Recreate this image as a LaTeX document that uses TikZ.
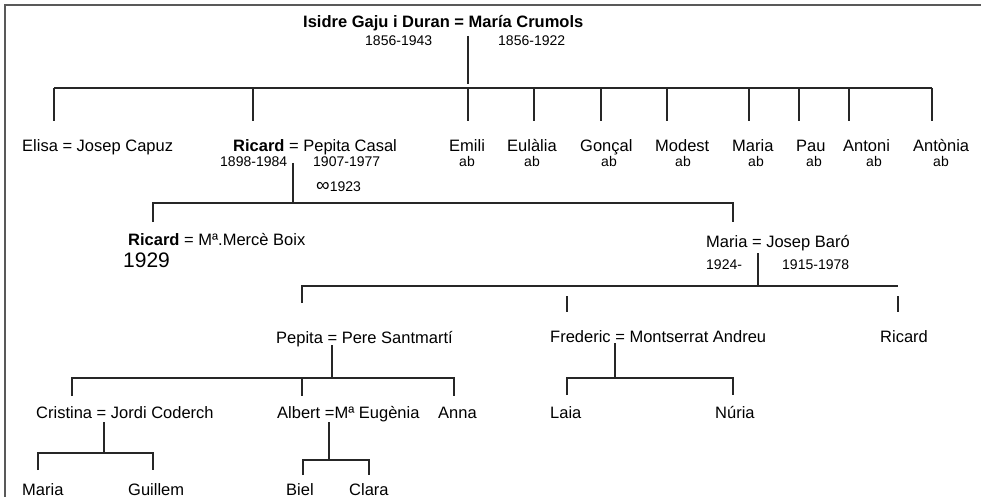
\documentclass[tikz,border=0pt]{standalone}
\usepackage{fontspec}
\setmainfont{Liberation Sans}

\tikzset{
  person/.style={inner sep=0pt, anchor=base west},
  small/.style={person, font=\fontsize{14}{16}\selectfont},
  line/.style={draw=black!85, line width=1.2pt},
}

\begin{document}
\begin{tikzpicture}[x=1pt, y=-1pt, font=\fontsize{16.5}{19}\selectfont]
\useasboundingbox (0,0) rectangle (981,497);
\draw[black!65, line width=1.6pt] (5,497) -- (5,5) -- (981,5);

% --- generation 1
\node[person, font=\fontsize{16.5}{19}\selectfont\bfseries] (isidre) at (303,28) {Isidre Gaju i Duran = María Crumols};
\node[small] (isidre-d) at (365,46) {1856-1943};
\node[small] (maria-d) at (498,46) {1856-1922};

% --- generation 2
\node[person] (elisa) at (22,152) {Elisa = Josep Capuz};
\node[person] (ricard) at (233,152) {\textbf{Ricard} = Pepita Casal};
\node[small] (ricard-d) at (220,167) {1898-1984};
\node[small] (pepita-d) at (313,167) {1907-1977};
\node[small] (ricard-m) at (316,191) {{\fontsize{19}{19}\selectfont ∞}1923};
\foreach \n/\t/\x/\a in {emili/Emili/449/467, eulalia/Eulàlia/507/532, goncal/Gonçal/580/609,
    modest/Modest/655/683, maria/Maria/732/756, pau/Pau/796/814,
    antoni/Antoni/843/874, antonia/Antònia/913/941}{
  \node[person] (\n) at (\x,152) {\t};
  \node[small, anchor=base] (\n-ab) at (\a,167) {ab};
}

% --- generation 3
\node[person] (ricard2) at (128,245) {\textbf{Ricard} = Mª.Mercè Boix};
\node[person, font=\fontsize{21}{24}\selectfont] (ricard2-d) at (123,267) {1929};
\node[person] (mariab) at (706,247) {Maria = Josep Baró};
\node[small] (mariab-d) at (706,269) {1924-};
\node[small] (josep-d) at (782,269) {1915-1978};

% --- generation 4
\node[person] (pepita) at (276,343) {Pepita = Pere Santmartí};
\node[person] (frederic) at (550,342) {Frederic = Montserrat Andreu};
\node[person] (ricard3) at (880,342) {Ricard};

% --- generation 5
\node[person] (cristina) at (36,418) {Cristina = Jordi Coderch};
\node[person] (albert) at (277,418) {Albert =Mª Eugènia};
\node[person] (anna) at (438,418) {Anna};
\node[person] (laia) at (550,418) {Laia};
\node[person] (nuria) at (715,418) {Núria};

% --- generation 6
\node[person] (mariac) at (22,495) {Maria};
\node[person] (guillem) at (128,495) {Guillem};
\node[person] (biel) at (286,495) {Biel};
\node[person] (clara) at (349,495) {Clara};

% --- lines
\coordinate (isidre-eq) at (468,36);
\coordinate (isidre-bar) at (468,88);
\draw[line] (isidre-eq) -- (468,84);
\foreach \c/\x in {elisa/54, ricard/253, emili/468, eulalia/534, goncal/601, modest/667,
    maria/749, pau/799, antoni/849, antonia/932}
  \coordinate (\c-up) at (\x,121);
\draw[line] (elisa-up |- isidre-bar) -- (antonia-up |- isidre-bar);
\foreach \c in {elisa, ricard, emili, eulalia, goncal, modest, maria, pau, antoni, antonia}
  \draw[line] (\c-up |- isidre-bar) -- (\c-up);

\coordinate (ricard-eq) at (293,163);
\coordinate (ricard-bar) at (293,203);
\coordinate (ricard2-up) at (153,222);
\coordinate (mariab-up) at (733,222);
\draw[line] (ricard-eq) -- (ricard-bar);
\draw[line] (ricard2-up) |- (mariab-up |- ricard-bar) -- (mariab-up);

\coordinate (mariab-eq) at (758,253);
\coordinate (mariab-bar) at (758,286);
\coordinate (pepita-up) at (302,303);
\coordinate (ricard3-end) at (898,286);
\draw[line] (mariab-eq) -- (mariab-bar);
\draw[line] (pepita-up) |- (ricard3-end);
\draw[line] (567,296) coordinate (frederic-top) -- (567,312) coordinate (frederic-up);
\draw[line] (898,296) coordinate (ricard3-top) -- (898,312) coordinate (ricard3-up);

\coordinate (pepita-eq) at (332,345);
\coordinate (pepita-bar) at (332,378);
\draw[line] (pepita-eq) -- (pepita-bar);
\foreach \c/\x in {cristina/72, albert/302, anna/454}
  \coordinate (\c-up) at (\x,396);
\draw[line] (cristina-up) |- (anna-up |- pepita-bar) -- (anna-up);
\draw[line] (albert-up |- pepita-bar) -- (albert-up);

\coordinate (frederic-eq) at (615,343);
\coordinate (frederic-bar) at (615,378);
\coordinate (laia-up) at (567,395);
\coordinate (nuria-up) at (733,395);
\draw[line] (frederic-eq) -- (frederic-bar);
\draw[line] (laia-up) |- (nuria-up |- frederic-bar) -- (nuria-up);

\coordinate (cristina-eq) at (104,422);
\coordinate (cristina-bar) at (104,453);
\coordinate (mariac-up) at (38,470);
\coordinate (guillem-up) at (153,470);
\draw[line] (cristina-eq) -- (cristina-bar);
\draw[line] (mariac-up) |- (guillem-up |- cristina-bar) -- (guillem-up);

\coordinate (albert-eq) at (329,422);
\coordinate (albert-bar) at (329,460);
\coordinate (biel-up) at (303,475);
\coordinate (clara-up) at (369,475);
\draw[line] (albert-eq) -- (albert-bar);
\draw[line] (biel-up) |- (clara-up |- albert-bar) -- (clara-up);
\end{tikzpicture}
\end{document}
